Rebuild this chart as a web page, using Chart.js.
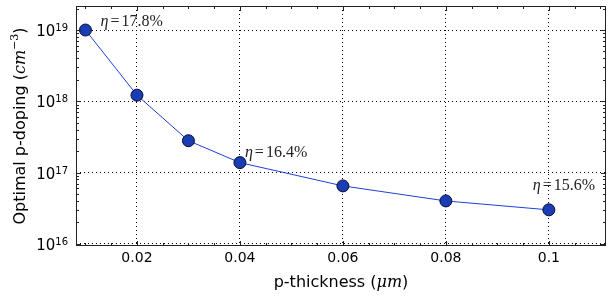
<!DOCTYPE html>
<html>
<head>
<meta charset="utf-8">
<script src="https://cdn.jsdelivr.net/npm/chart.js@4"></script>
<style>
  html, body { margin: 0; padding: 0; background: #fff; overflow: hidden; }
  canvas { display: block; }
</style>
</head>
<body>
<canvas id="chart1" width="608" height="297"></canvas>
<script>
// data
const thickness = [0.01, 0.02, 0.03, 0.04, 0.06, 0.08, 0.1]
const doping = [1.0e19, 1.22e18, 2.8e17, 1.38e17, 6.5e16, 4.0e16, 3.0e16]
const xTicks = [0.02, 0.04, 0.06, 0.08, 0.1]
const yTicks = [1e16, 1e17, 1e18, 1e19]
const yExp = ['16', '17', '18', '19']
const etaLabels = ['17.8%', '16.4%', '15.6%']
const etaIndex = [0, 3, 6]
const etaOffset = [[15, -4], [5, -6], [-16, -20]]

const sans = '"DejaVu Sans", sans-serif'
const serif = '"DejaVu Serif", serif'

// ticks pointing inwards on all four sides, tick labels, titles, eta notes
const decor = {
    id: 'decor',
    afterDraw(chart) {
        const ctx = chart.ctx
        const a = chart.chartArea
        const xs = chart.scales.x, ys = chart.scales.y
        ctx.save()
        ctx.strokeStyle = '#222'
        ctx.lineWidth = 1
        ctx.strokeRect(a.left + 0.5, a.top + 0.5, a.right - a.left - 1, a.bottom - a.top - 1)

        ctx.beginPath()
        // x major and minor
        for (let v = 0.01; v < xs.max; v += 0.005) {
            const px = Math.round(xs.getPixelForValue(v)) + 0.5
            if (px < a.left || px > a.right) continue
            const major = xTicks.some(t => Math.abs(t - v) < 1e-6)
            const len = major ? 5 : 3
            ctx.moveTo(px, a.bottom); ctx.lineTo(px, a.bottom - len)
            ctx.moveTo(px, a.top); ctx.lineTo(px, a.top + len)
        }
        // y major and minor (log)
        for (let e = 15; e <= 19; e++) {
            for (let m = 1; m <= 9; m++) {
                const v = m * Math.pow(10, e)
                const py = Math.round(ys.getPixelForValue(v)) + 0.5
                if (py < a.top || py > a.bottom) continue
                const len = m === 1 ? 5 : 3
                ctx.moveTo(a.left, py); ctx.lineTo(a.left + len, py)
                ctx.moveTo(a.right, py); ctx.lineTo(a.right - len, py)
            }
        }
        ctx.stroke()

        // y tick labels 10^n
        ctx.fillStyle = '#000'
        ctx.textBaseline = 'alphabetic'
        yTicks.forEach((v, i) => {
            const py = ys.getPixelForValue(v)
            ctx.font = '10px ' + sans
            const ew = ctx.measureText(yExp[i]).width
            ctx.textAlign = 'right'
            ctx.fillText(yExp[i], a.left - 8, py + 1)
            ctx.font = '15px ' + sans
            ctx.fillText('10', a.left - 8 - ew, py + 6)
        })

        // x title
        ctx.font = '16px ' + sans
        const t1 = 'p-thickness ('
        const w1 = ctx.measureText(t1).width
        ctx.font = 'italic 16px ' + serif
        const t2 = '\u03bcm'
        const w2 = ctx.measureText(t2).width
        ctx.font = '16px ' + sans
        const w3 = ctx.measureText(')').width
        let x0 = (a.left + a.right) / 2 - (w1 + w2 + w3) / 2
        const yb = 287
        ctx.textAlign = 'left'
        ctx.fillText(t1, x0, yb)
        ctx.font = 'italic 16px ' + serif
        ctx.fillText(t2, x0 + w1, yb)
        ctx.font = '16px ' + sans
        ctx.fillText(')', x0 + w1 + w2, yb)

        // y title (rotated)
        ctx.save()
        ctx.translate(25, (a.top + a.bottom) / 2)
        ctx.rotate(-Math.PI / 2)
        ctx.font = '16px ' + sans
        const s1 = 'Optimal p-doping ('
        const sw1 = ctx.measureText(s1).width
        ctx.font = 'italic 16px ' + serif
        const sw2 = ctx.measureText('cm').width
        ctx.font = '11px ' + serif
        const sw3 = ctx.measureText('\u22123').width
        ctx.font = '16px ' + sans
        const sw4 = ctx.measureText(')').width
        let sx = -(sw1 + sw2 + sw3 + sw4) / 2
        ctx.fillText(s1, sx, 0); sx += sw1
        ctx.font = 'italic 16px ' + serif
        ctx.fillText('cm', sx, 0); sx += sw2
        ctx.font = '11px ' + serif
        ctx.fillText('\u22123', sx, -7); sx += sw3
        ctx.font = '16px ' + sans
        ctx.fillText(')', sx, 0)
        ctx.restore()

        // eta notes
        ctx.fillStyle = '#222'
        etaIndex.forEach((idx, i) => {
            let px = xs.getPixelForValue(thickness[idx]) + etaOffset[i][0]
            const py = ys.getPixelForValue(doping[idx]) + etaOffset[i][1]
            ctx.font = 'italic 16px "Liberation Serif", serif'
            ctx.fillText('\u03b7', px, py)
            px += ctx.measureText('\u03b7').width + 2
            ctx.font = '16px "Liberation Serif", serif'
            ctx.fillText('=', px, py)
            px += ctx.measureText('=').width + 2
            ctx.fillText(etaLabels[i], px, py)
        })
        ctx.restore()
    }
}

new Chart('chart1', {
    type: 'line',
    data: {
        datasets: [{
            data: thickness.map((t, i) => ({ x: t, y: doping[i] })),
            borderColor: '#1f40d8',
            borderWidth: 1,
            pointRadius: 6,
            pointHoverRadius: 6,
            pointBackgroundColor: '#1a3cb4',
            pointBorderColor: '#0a0a30',
            pointBorderWidth: 1,
            tension: 0
        }]
    },
    options: {
        responsive: false,
        animation: false,
        events: [],
        layout: { autoPadding: false, padding: { top: 6, right: 2, left: 0, bottom: 0 } },
        plugins: { legend: { display: false }, tooltip: { enabled: false } },
        scales: {
            x: {
                type: 'linear',
                min: 0.00816,
                max: 0.1111,
                afterBuildTicks: s => { s.ticks = xTicks.map(v => ({ value: v })) },
                afterFit: s => { s.height = 51; s.paddingLeft = 0; s.paddingRight = 0 },
                ticks: {
                    callback: v => String(+v.toFixed(2)),
                    color: '#000',
                    font: { family: 'DejaVu Sans', size: 14 },
                    padding: 4,
                    maxRotation: 0
                },
                grid: { color: '#000', lineWidth: 1, drawTicks: false },
                border: { display: false, dash: [1, 3] }
            },
            y: {
                type: 'logarithmic',
                min: Math.pow(10, 15.97),
                max: Math.pow(10, 19.337),
                afterBuildTicks: s => { s.ticks = yTicks.map(v => ({ value: v })) },
                afterFit: s => { s.width = 76; s.paddingTop = 0; s.paddingBottom = 0 },
                ticks: { display: false },
                grid: { color: '#000', lineWidth: 1, drawTicks: false },
                border: { display: false, dash: [1, 3] }
            }
        }
    },
    plugins: [decor]
})
</script>
</body>
</html>
